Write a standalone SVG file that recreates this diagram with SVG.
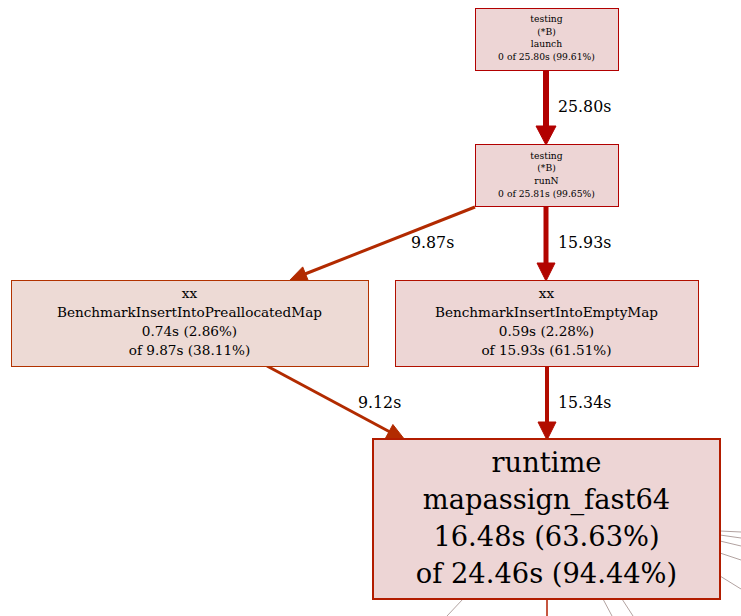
<svg xmlns="http://www.w3.org/2000/svg" width="741" height="616" viewBox="0 0 741 616">
<style>
text{font-family:"DejaVu Serif",serif;fill:#000;text-anchor:middle}
.s{font-size:9.2px}
.m{font-size:13.6px}
.l{font-size:27.3px}
.e{font-size:15.8px;text-anchor:start}
.g{stroke:#b2a2a0;stroke-width:1;fill:none}
</style>
<rect width="741" height="616" fill="#fff"/>
<g id="connectors">
<g id="e-launch-runN">
<line x1="546" y1="70" x2="546" y2="126" stroke="#b20000" stroke-width="6"/>
<polygon points="536,126 556,126 546,145" fill="#b20000" stroke="#b20000"/>
<text class="e" x="558" y="112">25.80s</text>
</g>
<g id="e-runN-left">
<line x1="475" y1="207" x2="305" y2="274" stroke="#b22a00" stroke-width="3"/>
<polygon points="302.7,266.9 308.7,281.7 289,281" fill="#b22a00" stroke="#b22a00"/>
<text class="e" x="411" y="248">9.87s</text>
</g>
<g id="e-runN-right">
<line x1="546" y1="207" x2="546" y2="263" stroke="#b20500" stroke-width="5"/>
<polygon points="537,263 555,263 546,281" fill="#b20500" stroke="#b20500"/>
<text class="e" x="558" y="248">15.93s</text>
</g>
<g id="e-left-runtime">
<line x1="267" y1="366" x2="390" y2="432" stroke="#b22b00" stroke-width="3"/>
<polygon points="392.9,424.5 385.3,438.5 405,440" fill="#b22b00" stroke="#b22b00"/>
<text class="e" x="358" y="408">9.12s</text>
</g>
<g id="e-right-runtime">
<line x1="547" y1="366" x2="547" y2="422" stroke="#b20d00" stroke-width="4"/>
<polygon points="538,422 556,422 547,440" fill="#b20d00" stroke="#b20d00"/>
<text class="e" x="558" y="408">15.34s</text>
</g>
<g id="e-runtime-out">
<line x1="547" y1="599" x2="547" y2="616" stroke="#b21e00" stroke-width="1.5"/>
<line class="g" x1="463" y1="599" x2="447" y2="616"/>
<line class="g" x1="603" y1="599" x2="612" y2="616"/>
<line class="g" x1="622" y1="599" x2="633" y2="616"/>
<line class="g" x1="720" y1="531" x2="741" y2="532"/>
<line class="g" x1="720" y1="535" x2="741" y2="538"/>
<line class="g" x1="720" y1="541" x2="741" y2="546"/>
<line class="g" x1="720" y1="553" x2="741" y2="560"/>
<line class="g" x1="720" y1="576" x2="741" y2="589"/>
</g>
</g>
<g id="node-launch">
<rect x="475.5" y="8.5" width="143" height="62" fill="#edd5d5" stroke="#b20000"/>
<text class="s" x="546.5" y="22">testing</text>
<text class="s" x="546.5" y="34.5">(*B)</text>
<text class="s" x="546.5" y="47">launch</text>
<text class="s" x="546.5" y="60">0 of 25.80s (99.61%)</text>
</g>
<g id="node-runN">
<rect x="475.5" y="144.5" width="143" height="62" fill="#edd5d5" stroke="#b20000"/>
<text class="s" x="546.5" y="158.5">testing</text>
<text class="s" x="546.5" y="171">(*B)</text>
<text class="s" x="546.5" y="183.5">runN</text>
<text class="s" x="546.5" y="196.5">0 of 25.81s (99.65%)</text>
</g>
<g id="node-prealloc">
<rect x="11.5" y="280.5" width="357" height="86" fill="#eddad5" stroke="#b23200"/>
<text class="m" x="189.5" y="298">xx</text>
<text class="m" x="189.5" y="317">BenchmarkInsertIntoPreallocatedMap</text>
<text class="m" x="189.5" y="336">0.74s (2.86%)</text>
<text class="m" x="189.5" y="355">of 9.87s (38.11%)</text>
</g>
<g id="node-empty">
<rect x="395.5" y="280.5" width="303" height="86" fill="#edd6d5" stroke="#b21000"/>
<text class="m" x="546.5" y="298">xx</text>
<text class="m" x="546.5" y="317">BenchmarkInsertIntoEmptyMap</text>
<text class="m" x="546.5" y="336">0.59s (2.28%)</text>
<text class="m" x="546.5" y="355">of 15.93s (61.51%)</text>
</g>
<g id="node-runtime">
<rect x="373" y="439" width="347" height="160" fill="#edd5d5" stroke="#b21c00" stroke-width="2"/>
<text class="l" x="546.5" y="472">runtime</text>
<text class="l" x="546.5" y="509">mapassign_fast64</text>
<text class="l" x="546.5" y="546">16.48s (63.63%)</text>
<text class="l" x="546.5" y="583">of 24.46s (94.44%)</text>
</g>
</svg>
